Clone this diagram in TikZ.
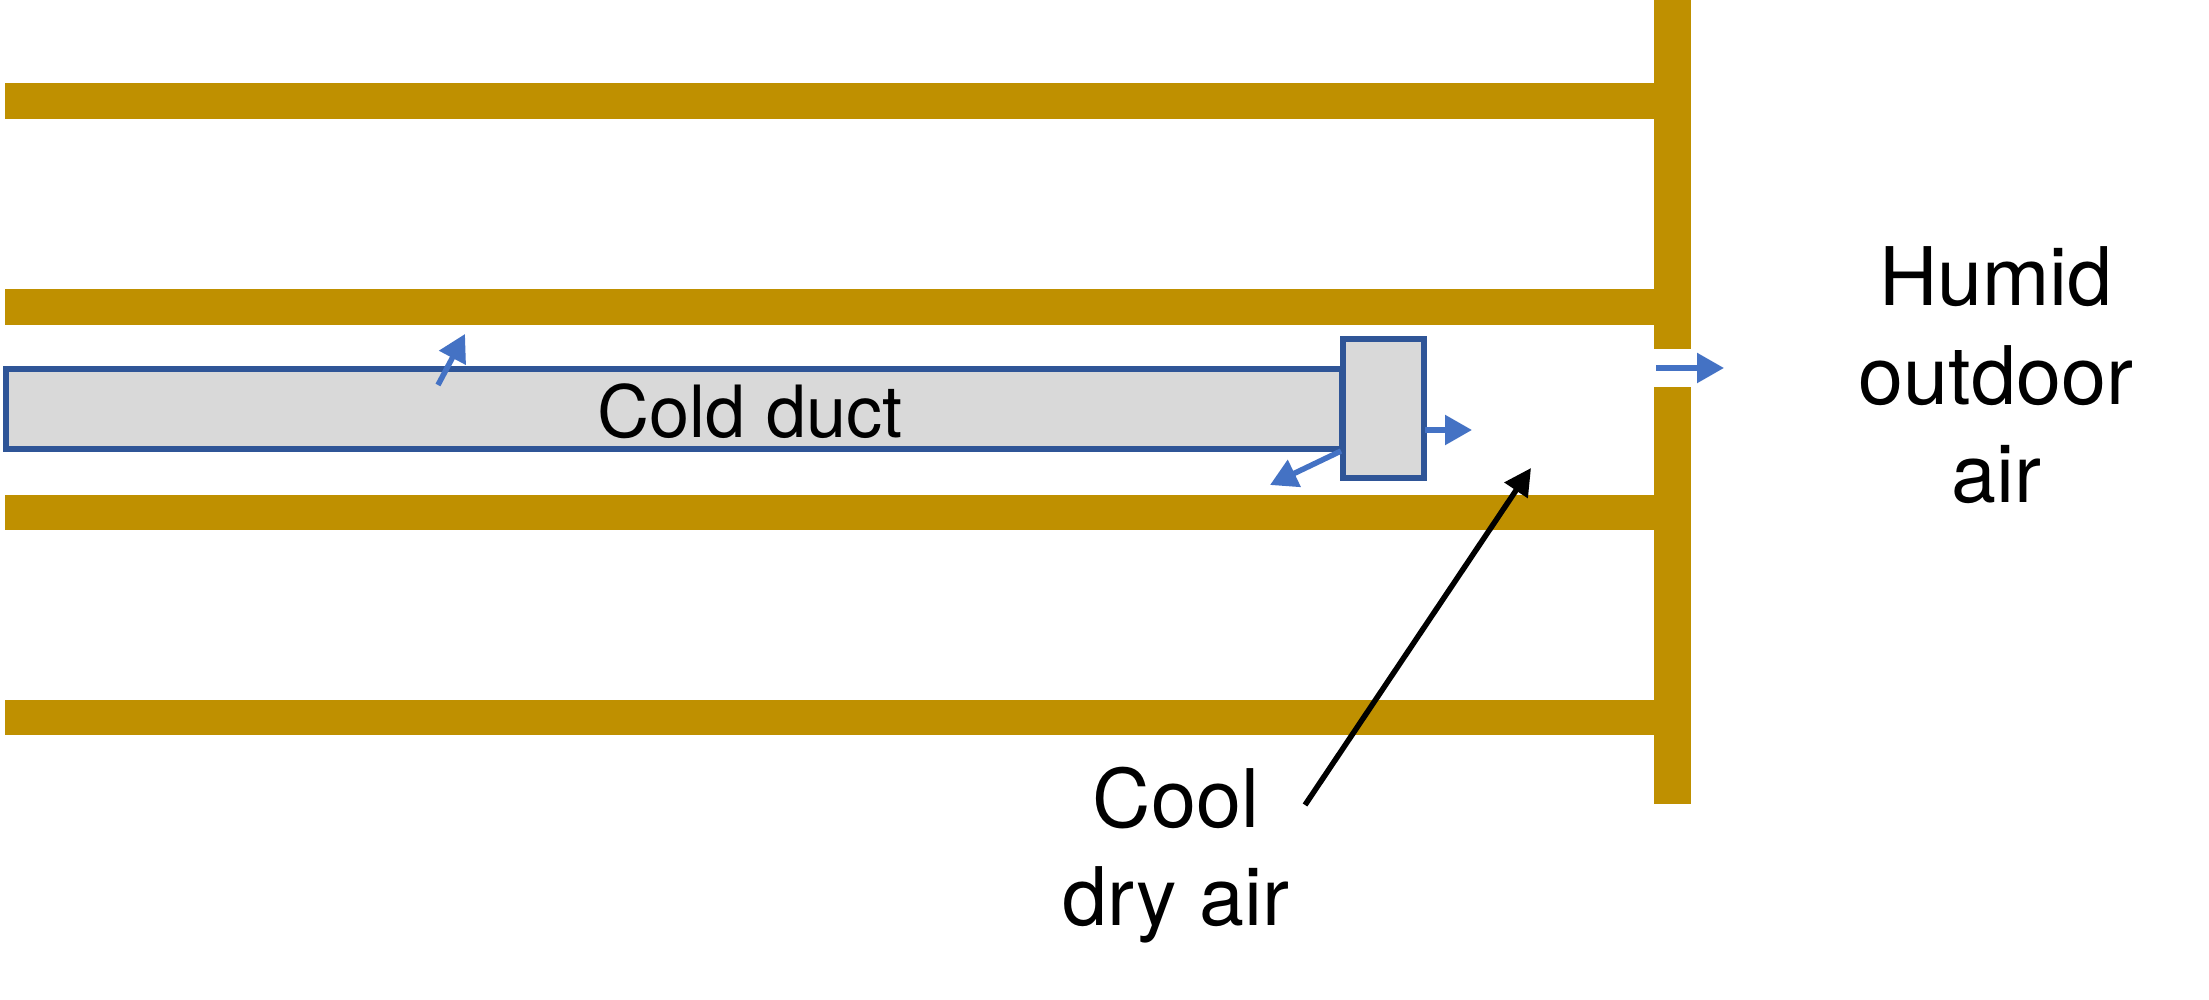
\documentclass[tikz,border=0pt]{standalone}
\usepackage{fontspec}
\setmainfont{TeX Gyre Heros}
\usetikzlibrary{arrows.meta, positioning, calc}

\definecolor{floorgold}{HTML}{BF9000}
\definecolor{ductblue}{HTML}{2F5597}
\definecolor{flowblue}{HTML}{4472C4}
\definecolor{ductgray}{HTML}{D9D9D9}

\begin{document}
\begin{tikzpicture}[
        floorbar/.style={fill=floorgold, minimum width=16.49cm, minimum height=0.355cm, inner sep=0, outer sep=0},
        wallbar/.style={fill=floorgold, minimum width=0.37cm, inner sep=0, outer sep=0},
        duct/.style={draw=ductblue, fill=ductgray, line width=0.06cm, inner sep=0, outer sep=0},
        bigtext/.style={font=\fontsize{23}{28}\selectfont, align=center},
        flow/.style={-{Triangle[length=0.27cm, width=0.29cm]}, flowblue, line width=0.055cm},
        pointer/.style={-{Triangle[length=0.27cm, width=0.27cm]}, black, line width=0.055cm}
    ]
    \useasboundingbox (0,0) rectangle (22.09,9.99);

    % ---- floors ----
    \foreach \floorname/\floory in {a/8.98, b/6.92, c/4.865, d/2.815}
        \node[floorbar] (floor\floorname) at (8.295,\floory) {};

    % ---- outside wall, with the gap ----
    \node[wallbar, minimum height=3.49cm] (wallup) at (16.725,8.245) {};
    \node[wallbar, minimum height=4.17cm] (walldown) at (16.725,4.035) {};

    % ---- cold duct and its end box ----
    \node[duct, minimum width=13.36cm, minimum height=0.80cm] (coldduct) at (6.74,5.9) {};
    \node[duct, minimum width=0.81cm, minimum height=1.39cm] (endbox) at (13.83,5.9) {};
    \node[font=\fontsize{20.5}{24}\selectfont] (ductlabel) at (7.5,5.88) {Cold duct};

    % ---- free ends of the arrows ----
    \coordinate (leakstart) at (4.38,6.14);
    \coordinate (leakend) at (4.65,6.65);
    \coordinate (backstart) at (13.41,5.48);
    \coordinate (backend) at (12.7,5.14);
    \coordinate (outstart) at (14.25,5.69);
    \coordinate (outend) at (14.72,5.69);
    \coordinate (gapstart) at (16.56,6.31);
    \coordinate (gapend) at (17.24,6.31);
    \coordinate (coolair) at (15.31,5.31);

    % ---- air flows ----
    \draw[flow] (leakstart) -- (leakend);
    \draw[flow] (backstart) -- (backend);
    \draw[flow] (outstart) -- (outend);
    \draw[flow] (gapstart) -- (gapend);

    % ---- labels ----
    \node[bigtext] (humid) at (19.96,6.235) {Humid\\outdoor\\air};
    \node[bigtext] (cooldry) at (11.76,1.44) {Cool\\dry air};
    \coordinate (pointerstart) at (13.05,1.94);
    \draw[pointer] (pointerstart) -- (coolair);

\end{tikzpicture}
\end{document}
